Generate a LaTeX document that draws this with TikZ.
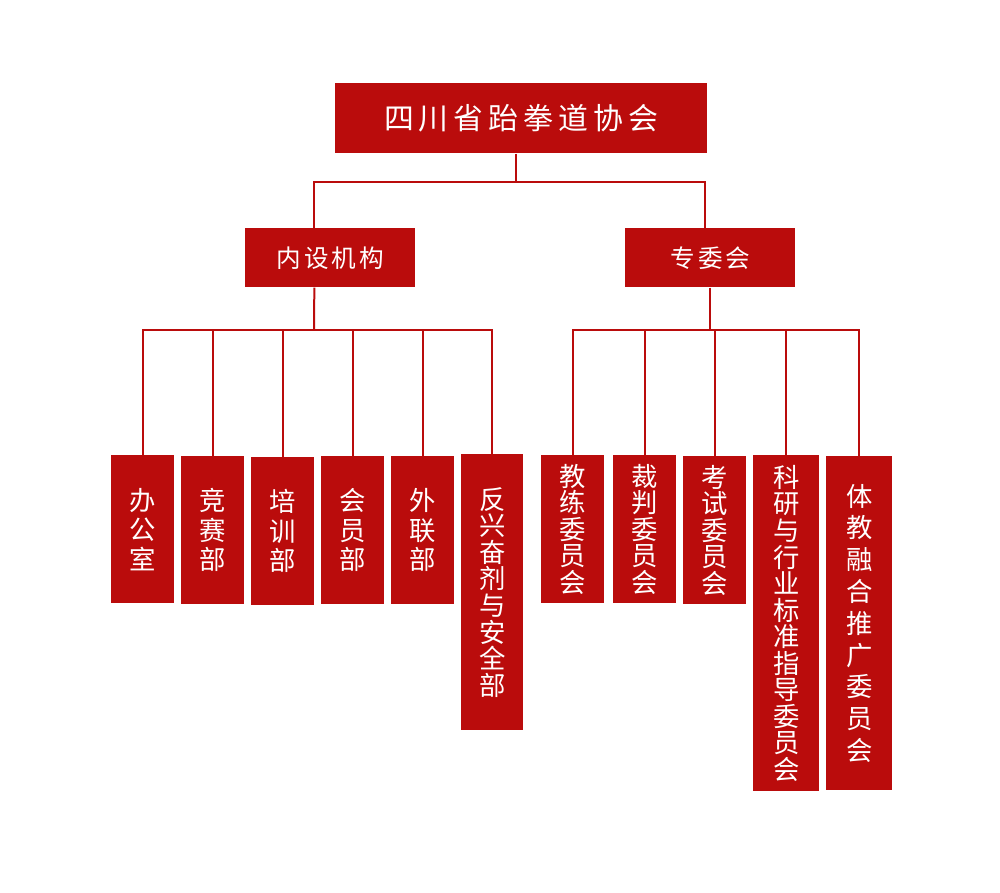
\documentclass[tikz,border=0pt]{standalone}
\usepackage{fontspec}
\usepackage{tikz}
\usetikzlibrary{positioning}
\newfontfamily\cjk{Noto Sans CJK SC}
\definecolor{assocred}{HTML}{BA0C0C}

\begin{document}
\begin{tikzpicture}[x=0.02cm, y=-0.02cm,
    every node/.style={text=white, inner sep=0pt},
    headbox/.style={rectangle, fill=assocred, anchor=north west, minimum width=7.44cm, minimum height=1.4cm, font=\cjk\fontsize{17}{20}\selectfont\addfontfeature{LetterSpace=17}},
    groupbox/.style={rectangle, fill=assocred, anchor=north west, minimum width=3.4cm, minimum height=1.18cm, font=\cjk\fontsize{14}{16}\selectfont\addfontfeature{LetterSpace=12}},
    unitbox/.style={rectangle, fill=assocred, anchor=north west, align=center, font=\cjk\fontsize{15}{#1}\selectfont},
    link/.style={draw=assocred, line width=0.04cm},
]
\useasboundingbox (0,0) rectangle (1000,892);
\node[headbox] (assoc) at (335,83) {四川省跆拳道协会};
\node[groupbox] (inner) at (245,228) {内设机构};
\node[groupbox] (special) at (625,228) {专委会};
% 内设机构
\node[unitbox=16.8, minimum width=1.26cm, minimum height=2.96cm] (office) at (111,455) {办\\公\\室};
\node[unitbox=16.8, minimum width=1.26cm, minimum height=2.96cm] (compete) at (181,456) {竞\\赛\\部};
\node[unitbox=16.8, minimum width=1.26cm, minimum height=2.96cm] (train) at (251,457) {培\\训\\部};
\node[unitbox=16.8, minimum width=1.26cm, minimum height=2.96cm] (member) at (321,456) {会\\员\\部};
\node[unitbox=16.8, minimum width=1.26cm, minimum height=2.96cm] (liaison) at (391,456) {外\\联\\部};
\node[unitbox=15.1, minimum width=1.24cm, minimum height=5.52cm] (antidope) at (461,454) {反\\兴\\奋\\剂\\与\\安\\全\\部};
% 专委会
\node[unitbox=15.1, minimum width=1.26cm, minimum height=2.96cm] (coach) at (541,455) {教\\练\\委\\员\\会};
\node[unitbox=15.1, minimum width=1.26cm, minimum height=2.96cm] (referee) at (613,455) {裁\\判\\委\\员\\会};
\node[unitbox=15.1, minimum width=1.26cm, minimum height=2.96cm] (exam) at (683,456) {考\\试\\委\\员\\会};
\node[unitbox=15.1, minimum width=1.32cm, minimum height=6.72cm] (research) at (753,455) {科\\研\\与\\行\\业\\标\\准\\指\\导\\委\\员\\会};
\node[unitbox=18.1, minimum width=1.32cm, minimum height=6.68cm] (fusion) at (826,456) {体\\教\\融\\合\\推\\广\\委\\员\\会};

\coordinate (topbus) at (516,182);
\coordinate (leftbus) at (314,330);
\coordinate (rightbus) at (711,330);
\draw[link] (assoc.south -| topbus) -- (topbus);
\draw[link] ([xshift=-0.32cm]inner.north) |- (topbus) -| ([xshift=-0.1cm]special.north);
\draw[link] ([xshift=-0.32cm]inner.south) -- (leftbus);
\draw[link] (office.north) |- (leftbus) -| (antidope.north);
\foreach \u in {compete,train,member,liaison}
    \draw[link] (\u.north) -- (\u.north |- leftbus);
\draw[link] (special.south) -- (special.south |- rightbus);
\draw[link] (coach.north) |- (rightbus) -| (fusion.north);
\foreach \u in {referee,exam,research}
    \draw[link] (\u.north) -- (\u.north |- rightbus);
\end{tikzpicture}
\end{document}
